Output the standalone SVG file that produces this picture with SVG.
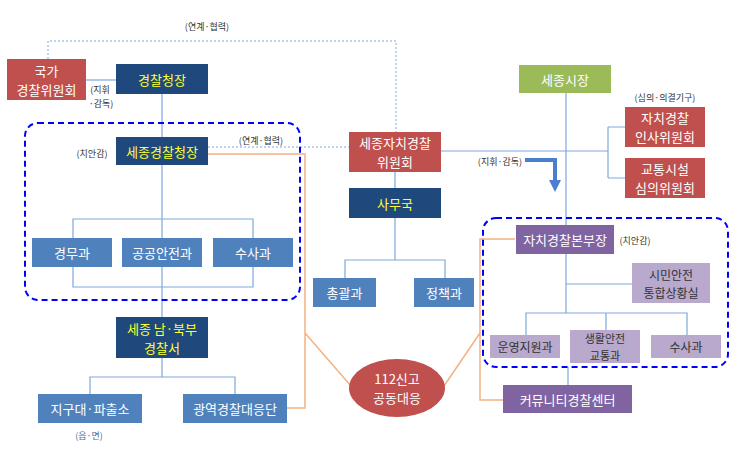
<svg xmlns="http://www.w3.org/2000/svg" width="730" height="450" viewBox="0 0 730 450">
<defs>
<style>
text{font-family:"Noto Sans CJK KR","Noto Sans",sans-serif;text-anchor:middle;dominant-baseline:central}
.t{font-size:13px;fill:#fff}
.y{font-size:13px;fill:#ffff33}
.d{font-size:12px;fill:#333}
.s{font-size:11px;fill:#333}
.a{font-size:9px;fill:#333}
.red{fill:#c0504d}
.navy{fill:#1f497d}
.blu{fill:#4f81bd}
.grn{fill:#9bbb59}
.pur{fill:#8064a2}
.lpur{fill:#b8a9cd}
.ln{stroke:#7fa7dc;stroke-width:1.2;fill:none}
.or{stroke:#f4b183;stroke-width:1.5;fill:none}
.dot{stroke:#7fa7dc;stroke-width:1;stroke-dasharray:2 2;fill:none}
.box{stroke:#0000ff;stroke-width:2;stroke-dasharray:6 4;fill:none}
</style>
<marker id="ah" viewBox="0 0 10 10" refX="5" refY="5" markerWidth="3" markerHeight="3" orient="auto"><path d="M0,0L10,5L0,10z" fill="#4a7fcf"/></marker>
</defs>
<rect width="730" height="450" fill="#fff"/>
<g id="connectors">
<path class="dot" d="M48,59V41H396V132"/>
<path class="dot" d="M208,147H349"/>
<path class="ln" d="M86,80H116"/>
<path class="ln" d="M162,94V137"/>
<path class="ln" d="M162,165V317"/>
<path class="ln" d="M73,238V219H253V238M73,267V287H253V267"/>
<path class="ln" d="M162,358V377M90,394V377H235V394"/>
<path class="ln" d="M395,172V188M395,218V260M345,278V260H445V278"/>
<path class="ln" d="M441,151H608M608,127V178M608,127H625M608,178H625"/>
<path class="ln" d="M566,93V225"/>
<path class="ln" d="M566,254V313M566,284H632M526,335V313H687V335M606,313V330"/>
<path class="ln" d="M568,367V385"/>
<path class="or" d="M208,154H305V408H287M305,333L351,386"/>
<path class="or" d="M515,239H480V400H503M480,333L444,386"/>
<path d="M525,160H555V186" stroke="#4a7fcf" stroke-width="4" fill="none" marker-end="url(#ah)"/>
<rect class="box" x="25" y="123" width="275" height="177" rx="13"/>
<rect class="box" x="483" y="218" width="245" height="149" rx="13"/>
</g>
<g id="n-guk"><rect class="red" x="7" y="59" width="79" height="41"/><text class="t" x="46.5" y="70">국가</text><text class="t" x="46.5" y="89">경찰위원회</text></g>
<g id="ann1"><text class="a" x="100" y="89">(지휘</text><text class="a" x="101" y="103">·감독)</text></g>
<g id="ann2"><text class="a" x="207" y="26">(연계·협력)</text></g>
<g id="n-chung"><rect class="navy" x="116" y="64" width="92" height="30"/><text class="y" x="162" y="79">경찰청장</text></g>
<g id="ann3"><text class="a" x="92" y="153">(치안감)</text></g>
<g id="n-sejongchung"><rect class="navy" x="116" y="137" width="92" height="28"/><text class="y" x="162" y="151">세종경찰청장</text></g>
<g id="ann4"><text class="a" x="261" y="140">(연계·협력)</text></g>
<g id="n-gyeongmu"><rect class="blu" x="32" y="238" width="80" height="29"/><text class="t" x="72" y="252.5">경무과</text></g>
<g id="n-gonggong"><rect class="blu" x="122" y="238" width="80" height="29"/><text class="t" x="162" y="252.5">공공안전과</text></g>
<g id="n-susa1"><rect class="blu" x="213" y="238" width="80" height="29"/><text class="t" x="253" y="252.5">수사과</text></g>
<g id="n-nambuk"><rect class="navy" x="116" y="317" width="92" height="41"/><text class="y" x="162" y="328">세종 남·북부</text><text class="y" x="162" y="347">경찰서</text></g>
<g id="n-jigu"><rect class="blu" x="38" y="394" width="104" height="29"/><text class="t" x="90" y="408.5">지구대·파출소</text></g>
<g id="ann5"><text class="a" x="89" y="435" style="fill:#4f6e9f">(읍·면)</text></g>
<g id="n-gwangyeok"><rect class="blu" x="183" y="394" width="104" height="29"/><text class="t" x="235" y="408.5">광역경찰대응단</text></g>
<g id="n-112"><ellipse class="red" cx="397" cy="388" rx="48" ry="29"/><text class="t" x="397" y="378.5">112신고</text><text class="t" x="397" y="397.5">공동대응</text></g>
<g id="n-jachi"><rect class="red" x="349" y="132" width="92" height="40"/><text class="t" x="395" y="142.5">세종자치경찰</text><text class="t" x="395" y="161.5">위원회</text></g>
<g id="n-samu"><rect class="navy" x="349" y="188" width="92" height="30"/><text class="y" x="395" y="203">사무국</text></g>
<g id="n-chonggwal"><rect class="blu" x="313" y="278" width="63" height="29"/><text class="t" x="344.5" y="292.5">총괄과</text></g>
<g id="n-jeongchaek"><rect class="blu" x="414" y="278" width="60" height="29"/><text class="t" x="444" y="292.5">정책과</text></g>
<g id="ann6"><text class="a" x="500" y="161">(지휘·감독)</text></g>
<g id="n-sijang"><rect class="grn" x="519" y="65" width="92" height="28"/><text class="t" x="565" y="79">세종시장</text></g>
<g id="ann7"><text class="a" x="665" y="97">(심의·의결기구)</text></g>
<g id="n-insa"><rect class="red" x="625" y="107" width="80" height="40"/><text class="t" x="665" y="117.5">자치경찰</text><text class="t" x="665" y="136.5">인사위원회</text></g>
<g id="n-gyotong"><rect class="red" x="625" y="158" width="80" height="40"/><text class="t" x="665" y="168.5">교통시설</text><text class="t" x="665" y="187.5">심의위원회</text></g>
<g id="n-bonbu"><rect class="pur" x="516" y="225" width="98" height="29"/><text class="t" x="565" y="239.5">자치경찰본부장</text></g>
<g id="ann8"><text class="a" x="635" y="240">(치안감)</text></g>
<g id="n-simin"><rect class="lpur" x="632" y="263" width="78" height="40"/><text class="d" x="671" y="274">시민안전</text><text class="d" x="671" y="292">통합상황실</text></g>
<g id="n-unyeong"><rect class="lpur" x="490" y="335" width="70" height="23"/><text class="d" x="525" y="346.5">운영지원과</text></g>
<g id="n-saenghwal"><rect class="lpur" x="570" y="330" width="70" height="33"/><text class="s" x="605" y="338.25">생활안전</text><text class="s" x="605" y="354.75">교통과</text></g>
<g id="n-susa2"><rect class="lpur" x="651" y="335" width="70" height="23"/><text class="d" x="686" y="346.5">수사과</text></g>
<g id="n-community"><rect class="pur" x="503" y="385" width="129" height="28"/><text class="t" x="567.5" y="399">커뮤니티경찰센터</text></g>
</svg>
